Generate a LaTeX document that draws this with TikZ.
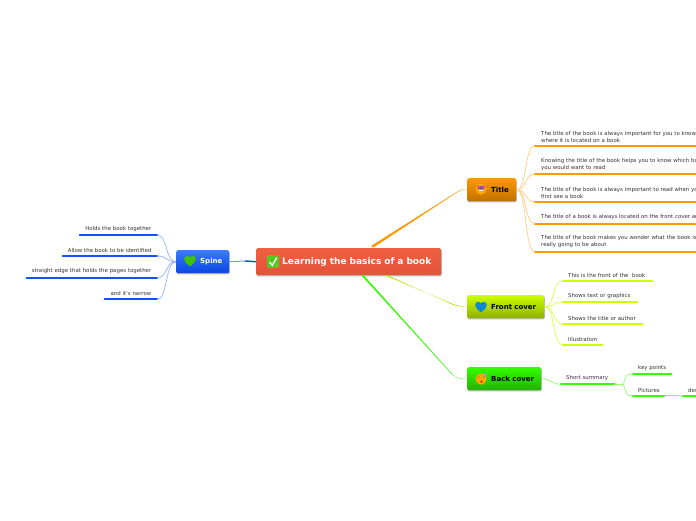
\documentclass[tikz,border=0pt]{standalone}
\usepackage{fontspec}
\setmainfont{DejaVu Sans}
\usetikzlibrary{calc}
\definecolor{ttl}{HTML}{FF9900}
\definecolor{frt}{HTML}{CCFF00}
\definecolor{bck}{HTML}{33FF00}
\definecolor{spn}{HTML}{0F53F0}
\definecolor{ink}{HTML}{333333}
\definecolor{mainA}{HTML}{F05F3F}
\definecolor{mainB}{HTML}{E4533A}
\definecolor{ttlB}{HTML}{C07000}
\definecolor{frtB}{HTML}{8FB000}
\definecolor{bckB}{HTML}{22B000}
\definecolor{spnA}{HTML}{3A7BFF}
\definecolor{spnB}{HTML}{0A46E0}
\definecolor{chk}{HTML}{55C822}
\definecolor{hrt}{HTML}{3FC400}
\tikzset{
  x=1pt,y=-1pt,
  topic/.style={rounded corners=2pt,minimum height=23pt,inner sep=0pt,font=\fontsize{7}{8}\selectfont\bfseries,text=black,anchor=north west,align=left},
  leaf/.style={inner xsep=0pt,inner ysep=3.4pt,anchor=south west,font=\fontsize{5.42}{7}\selectfont,text=ink,align=left},
  uline/.style={line width=2.2pt,line cap=round},
  wire/.style={line width=0.7pt},
  tw/.style={wire,draw=ttl!50},
  fw/.style={wire,draw=frt!70!white},
  bw/.style={wire,draw=bck!55!white},
  sw/.style={wire,draw=spn!45!white},
}
\newcommand{\boxshadow}[4]{\fill[black!28,rounded corners=2pt] (#1+0.5,#2+1) rectangle (#3+0.8,#4+1.4);}
\begin{document}
\begin{tikzpicture}
\useasboundingbox (0,0) rectangle (696,520);
\clip (0,0) rectangle (696,520);
\fill[white] (0,0) rectangle (696,520);

% central topic
\boxshadow{256}{248}{441}{275}
\node[anchor=north west,minimum height=27pt,inner sep=0pt,rounded corners=1.5pt,
  top color=mainA,bottom color=mainB,draw=none,text=white,font=\fontsize{9}{10}\selectfont\bfseries,
  text width=185pt,align=left] at (256,248) (main) {\hspace*{26pt}Learning the basics of a book};
\fill[rounded corners=1.5pt,fill=chk] (267,255) rectangle (279,268);
\draw[white,line width=1.3pt] (269.6,262) -- (272.2,265.4) -- (276.8,257.6);

% main topics
\boxshadow{467}{178}{516}{201}
\node[topic,text width=49pt,top color=ttl,bottom color=ttlB] at (467,178) (title) {\hspace*{24pt}Title};
\boxshadow{467}{295}{544}{318}
\node[topic,text width=77pt,top color=frt,bottom color=frtB] at (467,295) (front) {\hspace*{24pt}Front cover};
\boxshadow{467}{367}{541}{390}
\node[topic,text width=74pt,top color=bck,bottom color=bckB] at (467,367) (back) {\hspace*{24pt}Back cover};
\boxshadow{176}{250}{229}{273}
\node[topic,text width=53pt,top color=spnA,bottom color=spnB,text=white] at (176,250) (spine) {\hspace*{24pt}Spine};

% icons
\fill[orange!70!yellow] (481,189) circle (5.6);
\fill[black!60] (477.6,189.4) arc (180:360:3.4) -- cycle;
\fill[magenta!75] (478.4,187) circle (1.7) (483.6,187) circle (1.7);
\fill[white] (478.8,190) rectangle (483.2,190.9);
\fill[cyan!70!blue] (481,312.4) .. controls (477,309) and (475.2,307.6) .. (475.2,305) .. controls (475.2,301.6) and (479.6,301) .. (481,303.4) .. controls (482.4,301) and (486.8,301.6) .. (486.8,305) .. controls (486.8,307.6) and (485,309) .. (481,312.4) -- cycle;
\fill[orange!70!yellow] (481,379) circle (5.6);
\fill[black!55] (477.5,376.5) rectangle (479.5,377.3) (482.5,376.5) rectangle (484.5,377.3);
\fill[red!60!black] (481.5,381.6) circle (1.1);
\fill[gray!70] (484,372.6) -- (487,374.4) -- (485.8,377) -- (483.2,375.4) -- cycle;
\fill[hrt] (190,266.4) .. controls (186,263) and (184.2,261.6) .. (184.2,259) .. controls (184.2,255.6) and (188.6,255) .. (190,257.4) .. controls (191.4,255) and (195.8,255.6) .. (195.8,259) .. controls (195.8,261.6) and (194,263) .. (190,266.4) -- cycle;

% leaves: Title
\node[leaf,text width=175pt] at (535,146) (t1) {\hspace*{6pt}The title of the book is always important for you to know\\\hspace*{6pt}where it is located on a book};
\node[leaf,text width=175pt] at (535,174) (t2) {\hspace*{6pt}Knowing the title of the book helps you to know which book\\\hspace*{6pt}you would want to read};
\node[leaf,text width=175pt] at (535,202) (t3) {\hspace*{6pt}The title of the book is always important to read when you\\\hspace*{6pt}first see a book};
\node[leaf,text width=175pt] at (535,223.7) (t4) {\hspace*{6pt}The title of a book is always located on the front cover and};
\node[leaf,text width=175pt] at (535,251.7) (t5) {\hspace*{6pt}The title of the book makes you wonder what the book is\\\hspace*{6pt}really going to be about};
\foreach \n in {t1,t2,t3,t4,t5} \draw[uline,ttl] (\n.south west) -- (\n.south east);

% leaves: Front
\node[leaf,text width=89pt] at (563,280.7) (f1) {\hspace*{5pt}This is the front of the~~book};
\node[leaf,text width=74pt] at (563,302) (f2) {\hspace*{5pt}Shows text or graphics};
\node[leaf,text width=79pt] at (563,323.7) (f3) {\hspace*{5pt}Shows the title or author};
\node[leaf,text width=39pt] at (563,345) (f4) {\hspace*{5pt}Illustration};
\foreach \n in {f1,f2,f3,f4} \draw[uline,frt] (\n.south west) -- (\n.south east);

% leaves: Back
\node[leaf,text width=53pt] at (561,384.3) (b1) {\hspace*{5pt}Short summary};
\node[leaf,text width=38pt] at (633,374) (b2) {\hspace*{5pt}key points};
\node[leaf,text width=31pt] at (633,395.7) (b3) {\hspace*{5pt}Pictures};
\node[leaf,text width=40pt] at (683,395.7) (b4) {\hspace*{5pt}describe};
\foreach \n in {b1,b2,b3,b4} \draw[uline,bck] (\n.south west) -- (\n.south east);

% leaves: Spine
\tikzset{sleaf/.style={leaf,anchor=south east,align=right}}
\node[sleaf,text width=77pt] at (157,235) (s1) {Holds the book together\hspace*{5.5pt}};
\node[sleaf,text width=94pt] at (157,256) (s2) {Allow the book to be identified\hspace*{5.5pt}};
\node[sleaf,text width=130pt] at (157,277.7) (s3) {straight edge that holds the pages together\hspace*{5.5pt}};
\node[sleaf,text width=52pt] at (157,299.3) (s4) {and it's narrow\hspace*{5.5pt}};
\foreach \n in {s1,s2,s3,s4} \draw[uline,spn] (\n.south west) -- (\n.south east);

% connectors
\foreach \n in {t1,t2,t3,t4,t5}
  \draw[tw] (title.east) .. controls ($(title.east)+(11,0)$) and ($(\n.south west)+(-11,0)$) .. (\n.south west);
\foreach \n in {f1,f2,f3,f4}
  \draw[fw] (front.east) .. controls ($(front.east)+(11,0)$) and ($(\n.south west)+(-11,0)$) .. (\n.south west);
\foreach \n in {s1,s2,s3,s4}
  \draw[sw] (spine.west) .. controls ($(spine.west)+(-11,0)$) and ($(\n.south east)+(11,0)$) .. (\n.south east);
\draw[bw] (back.east) .. controls ($(back.east)+(10,0)$) and ($(b1.south west)+(-10,0)$) .. (b1.south west);
\draw[bw] (b1.south east) -- ($(b1.south east)+(9,0)$) coordinate (bj);
\draw[bw] (bj) .. controls ($(bj)+(3,-10)$) and ($(b2.south west)+(-7,0)$) .. (b2.south west);
\draw[bw] (bj) .. controls ($(bj)+(3,10)$) and ($(b3.south west)+(-7,0)$) .. (b3.south west);
\draw[bw] (b3.south east) -- (b4.south west);

% tapered branches from the central topic
\coordinate (ta) at (371,246); \coordinate (tb) at (373.5,247.5);
\fill[ttl] (ta) -- (457,191.8) .. controls (461,189.4) and (463,188.9) .. (title.west) .. controls (463,189.3) and (461,189.8) .. (457.3,192.2) -- (tb) -- cycle;
\coordinate (fa) at (384,275); \coordinate (fb) at (387,275);
\fill[frt!90!black] (fa) -- (453,304) .. controls (458,306) and (462,306.2) .. (front.west) .. controls (462,306.8) and (458,306.8) .. (453,304.8) -- (fb) -- cycle;
\coordinate (ba) at (361,275); \coordinate (bb) at (363.5,275);
\fill[bck] (ba) -- (452,374.5) .. controls (456,378) and (459,378.6) .. (back.west) .. controls (459,379) and (456,378.7) .. (452.4,374.2) -- (bb) -- cycle;
\coordinate (sj) at (245,261);
\draw[line width=1pt,draw=spn!55!white] (spine.east) -- (sj);
\draw[line width=1.5pt,draw=spn] (sj) -- (main.west);
\end{tikzpicture}
\end{document}
